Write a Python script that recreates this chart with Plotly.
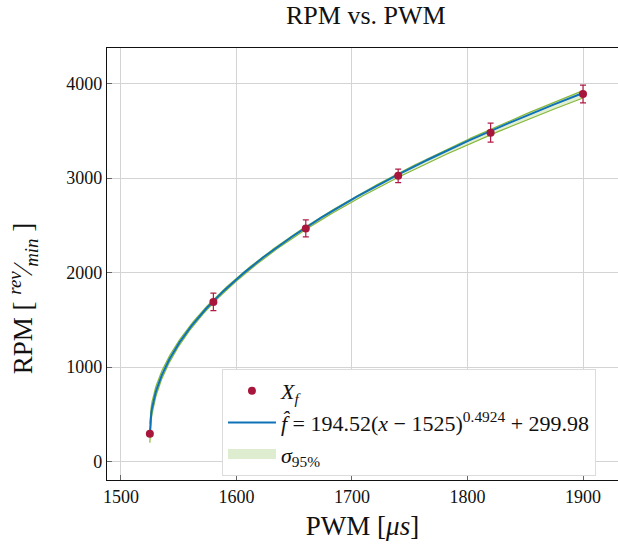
import numpy as np
import plotly.graph_objects as go

# Measured operating points
pwm_us = [1525, 1580, 1660, 1740, 1820, 1900]
rpm = [295, 1690, 2468, 3024, 3481, 3890]
rpm_err = [15, 93, 90, 72, 100, 94]

# Fitted power law f = a (x - x0)^b + c
fit_a, fit_x0, fit_b, fit_c = 194.52, 1525, 0.4924, 299.98
# Parameter sets bounding the 95% band (upper, lower)
band_a = [167.8, 225.0]
band_b = [0.5138, 0.470]
band_c = [400.0, 200.0]

x_ticks = [1500, 1600, 1700, 1800, 1900]
y_ticks = [0, 1000, 2000, 3000, 4000]

xs = np.linspace(fit_x0, 1900, 600)
fit_y = fit_a * (xs - fit_x0) ** fit_b + fit_c
upper = band_a[0] * (xs - fit_x0) ** band_b[0] + band_c[0]
lower = band_a[1] * (xs - fit_x0) ** band_b[1] + band_c[1]

serif = "Liberation Serif"
green_edge = "#86b83a"
green_fill = "rgba(200,225,175,0.55)"
blue = "#0f72b8"
red = "#a8163c"

fig = go.Figure()

fig.add_trace(go.Scatter(
    x=xs, y=upper, mode="lines",
    line=dict(color=green_edge, width=1.2),
    showlegend=False, hoverinfo="skip",
))
fig.add_trace(go.Scatter(
    x=xs, y=lower, mode="lines", fill="tonexty", fillcolor=green_fill,
    line=dict(color=green_edge, width=1.2),
    showlegend=False, hoverinfo="skip",
))

fig.add_trace(go.Scatter(
    x=xs, y=fit_y, mode="lines",
    line=dict(color=blue, width=2),
    name="<i>f̂</i> = 194.52(<i>x</i> − 1525)<sup>0.4924</sup> + 299.98",
    legendrank=2,
))

# legend swatch for the confidence band
fig.add_trace(go.Scatter(
    x=[None], y=[None], mode="lines",
    line=dict(color="rgb(222,236,208)", width=16),
    name="<i>σ</i><sub>95%</sub>",
    legendrank=3,
))

fig.add_trace(go.Scatter(
    x=pwm_us, y=rpm, mode="markers",
    marker=dict(color=red, size=8),
    error_y=dict(type="data", array=rpm_err, color="#b01c44", thickness=1.2, width=3),
    name="<i>X<sub>f</sub></i>",
    legendrank=1,
))

fig.update_layout(
    width=618, height=549,
    margin=dict(l=107, r=0, t=48, b=69),
    paper_bgcolor="white", plot_bgcolor="white",
    font=dict(family=serif, color="#111111", size=18),
    title=dict(text="RPM vs. PWM", x=0.592, xanchor="center", y=0.972, yanchor="middle",
               font=dict(size=26, family=serif)),
    legend=dict(
        x=0.225, y=0.257, xanchor="left", yanchor="top",
        bgcolor="white", bordercolor="#dcdcdc", borderwidth=1,
        font=dict(size=22, family=serif),
        traceorder="normal", tracegroupgap=0, itemwidth=48,
    ),
    showlegend=True,
    annotations=[dict(
        text="RPM [ <sup><i>rev</i></sup>⁄<sub><i>min</i></sub> ]",
        textangle=-90, xref="paper", yref="paper", x=-0.165, y=0.42,
        xanchor="center", yanchor="middle", showarrow=False,
        font=dict(size=27, family=serif),
    )],
)

fig.update_xaxes(
    range=[1487.9, 1930.3], tickvals=x_ticks, ticktext=[str(v) for v in x_ticks],
    showgrid=True, gridcolor="#d4d4d4", gridwidth=1,
    showline=True, linecolor="#111111", linewidth=1.2, mirror=True,
    ticks="inside", ticklen=5, tickcolor="#666666",
    zeroline=False, tickfont=dict(size=18, family=serif),
    title=dict(text="PWM [<i>μs</i>]", font=dict(size=27, family=serif), standoff=10),
)
fig.update_yaxes(
    range=[-195, 4377], tickvals=y_ticks, ticktext=[str(v) for v in y_ticks],
    showgrid=True, gridcolor="#d4d4d4", gridwidth=1,
    showline=True, linecolor="#111111", linewidth=1.2, mirror=False,
    ticks="inside", ticklen=5, tickcolor="#666666",
    zeroline=False, tickfont=dict(size=18, family=serif),
)

fig.write_html("out.html")
